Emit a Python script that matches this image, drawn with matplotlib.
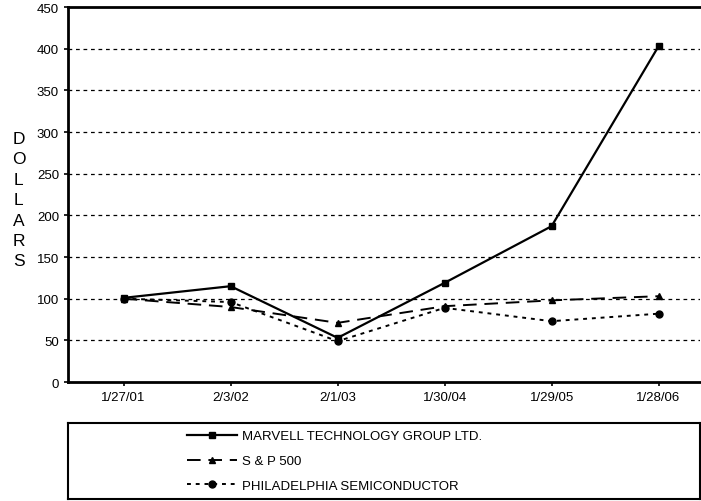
import matplotlib
matplotlib.use("Agg")
import matplotlib.pyplot as plt

plt.rcParams['font.family'] = ['Liberation Sans', 'DejaVu Sans']

# ---------------- data ----------------
dates = ["1/27/01", "2/3/02", "2/1/03", "1/30/04", "1/29/05", "1/28/06"]
marvell = [101, 115, 53, 119, 187, 403]
sp500 = [100, 90, 71, 91, 98, 103]
phlx = [100, 96, 49, 89, 73, 82]
yticks = [0, 50, 100, 150, 200, 250, 300, 350, 400, 450]
# ---------------------------------------------------------

fig = plt.figure(figsize=(7.01, 5.02), dpi=100)
ax = fig.add_axes([0.097, 0.237, 0.902, 0.747])

x = list(range(len(dates)))
l1, = ax.plot(x, marvell, color="black", lw=1.6, ls="-", marker="s", ms=5,
              label="MARVELL TECHNOLOGY GROUP LTD.")
l2, = ax.plot(x, sp500, color="black", lw=1.4, ls=(0, (7, 4)), marker="^", ms=5,
              label="S & P 500")
l3, = ax.plot(x, phlx, color="black", lw=1.4, ls=(0, (2, 2.5)), marker="o", ms=5,
              label="PHILADELPHIA SEMICONDUCTOR")

ax.set_ylim(0, 450)
ax.set_xlim(-0.52, 5.39)
ax.set_yticks(yticks)
ax.set_xticks(x)
ax.set_xticklabels(dates)
ax.tick_params(labelsize=9.5, length=3, width=1.2, direction="out")
for y in yticks[1:-1]:
    ax.axhline(y, color="black", lw=0.9, ls=(0, (3, 3)), zorder=0)

for s in ["left", "bottom", "top"]:
    ax.spines[s].set_linewidth(2)
ax.spines["right"].set_visible(False)

fig.text(0.027, 0.6, "D\nO\nL\nL\nA\nR\nS", ha="center", va="center",
         fontsize=12.5, linespacing=1.45)

# legend box below the chart
lax = fig.add_axes([0.097, 0.004, 0.902, 0.151])
lax.set_xticks([])
lax.set_yticks([])
for s in lax.spines.values():
    s.set_linewidth(1.5)
lax.legend(handles=[l1, l2, l3], loc="center left", bbox_to_anchor=(0.18, 0.5),
           frameon=False, fontsize=9.5, handlelength=3.8, labelspacing=0.95,
           handletextpad=0.35, borderaxespad=0)

fig.savefig("out.png", dpi=100)
